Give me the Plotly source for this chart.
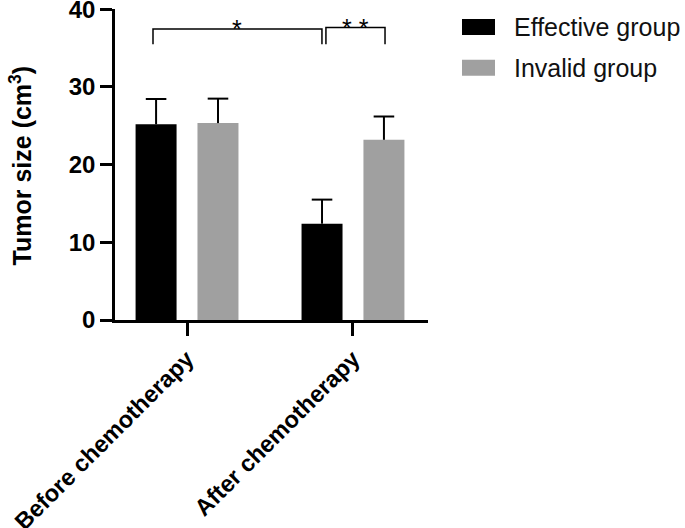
import plotly.graph_objects as go

# data
categories = ["Before chemotherapy", "After chemotherapy"]
effective_mean = [25.2, 12.4]
effective_sd = [3.25, 3.1]
invalid_mean = [25.35, 23.2]
invalid_sd = [3.15, 3.0]

FONT = "Liberation Sans, Arial, sans-serif"
BLACK = "#000000"
GREY = "#a0a0a0"
BAR_W = 0.247
CAP = 0.062  # half width of the error bar caps, in category units

fig = go.Figure()
groups = [
    ("Effective group", effective_mean, effective_sd, BLACK, -0.31),
    ("Invalid group", invalid_mean, invalid_sd, GREY, 0.063),
]
for name, mean, sd, color, offset in groups:
    # one-sided error bars: stem from the bar top upward, no cap at the bottom
    fig.add_trace(go.Bar(
        x=categories, y=mean, name=name,
        marker=dict(color=color, line=dict(width=0)),
        width=BAR_W, offset=offset,
        error_y=dict(type="data", symmetric=False, array=sd,
                     arrayminus=[0] * len(sd), color=BLACK, thickness=2, width=0),
    ))
    for i, (m, s) in enumerate(zip(mean, sd)):
        xc = i + offset + BAR_W / 2
        fig.add_shape(type="line", xref="x", yref="y",
                      x0=xc - CAP, x1=xc + CAP, y0=m + s, y1=m + s,
                      line=dict(color=BLACK, width=2))

# significance brackets
def bracket(x0, x1, ytop, ybot, label):
    fig.add_shape(type="path", xref="x", yref="y",
                  path=f"M {x0},{ybot} L {x0},{ytop} L {x1},{ytop} L {x1},{ybot}",
                  line=dict(color=BLACK, width=1.5))
    fig.add_annotation(x=(x0 + x1) / 2, y=ytop, xref="x", yref="y", text=label,
                       showarrow=False, yanchor="bottom", yshift=-16,
                       font=dict(family=FONT, size=25, color=BLACK))

bracket(-0.205, 0.813, 37.45, 35.5, "*")
bracket(0.837, 1.193, 37.65, 35.5, "* *")

# legend drawn by hand so the swatches keep their size
legend = [("Effective group", BLACK, 18, 34), ("Invalid group", GREY, 59, 75)]
for label, color, top, bottom in legend:
    fig.add_shape(type="rect", xref="paper", yref="paper",
                  x0=(462 - 115) / 313, x1=(495 - 115) / 313,
                  y0=(320 - bottom) / 312, y1=(320 - top) / 312,
                  fillcolor=color, line=dict(width=0))
    fig.add_annotation(xref="paper", yref="paper", x=(512 - 115) / 313,
                       y=(320 - (top + bottom) / 2) / 312, text=label,
                       showarrow=False, xanchor="left", yanchor="middle",
                       font=dict(family=FONT, size=25, color="#111111"))

# y axis title
fig.add_annotation(xref="paper", yref="paper", x=(21 - 115) / 313, y=0.497,
                   text="Tumor size (cm<sup>3</sup>)", textangle=-90,
                   showarrow=False, xanchor="center", yanchor="middle",
                   font=dict(family=FONT, size=25, color=BLACK, weight="bold"))

fig.update_layout(
    width=685, height=528,
    margin=dict(l=115, r=257, t=9, b=208),
    plot_bgcolor="white", paper_bgcolor="white",
    showlegend=False, barmode="overlay",
    font=dict(family=FONT, color=BLACK),
    xaxis=dict(
        type="category", range=[-0.434, 1.452], automargin=False,
        showline=True, linewidth=2.5, linecolor=BLACK,
        ticks="outside", ticklen=13, tickwidth=2.5, tickcolor=BLACK,
        tickangle=-45, showgrid=False, zeroline=False,
        ticklabeloverflow="allow",
        tickfont=dict(family=FONT, size=23.5, color=BLACK, weight="bold"),
    ),
    yaxis=dict(
        range=[0, 40.04], tickvals=[0, 10, 20, 30, 40], automargin=False,
        showline=True, linewidth=2.5, linecolor=BLACK,
        ticks="outside", ticklen=12, tickwidth=2.5, tickcolor=BLACK,
        showgrid=False, zeroline=False, ticklabeloverflow="allow",
        tickfont=dict(family=FONT, size=24, color=BLACK, weight="bold"),
    ),
)

# the page's default body margin would shift the 685x528 figure by 8px
fig.write_html("out.html", config={"displayModeBar": False},
               post_script="document.body.style.margin='0';")
